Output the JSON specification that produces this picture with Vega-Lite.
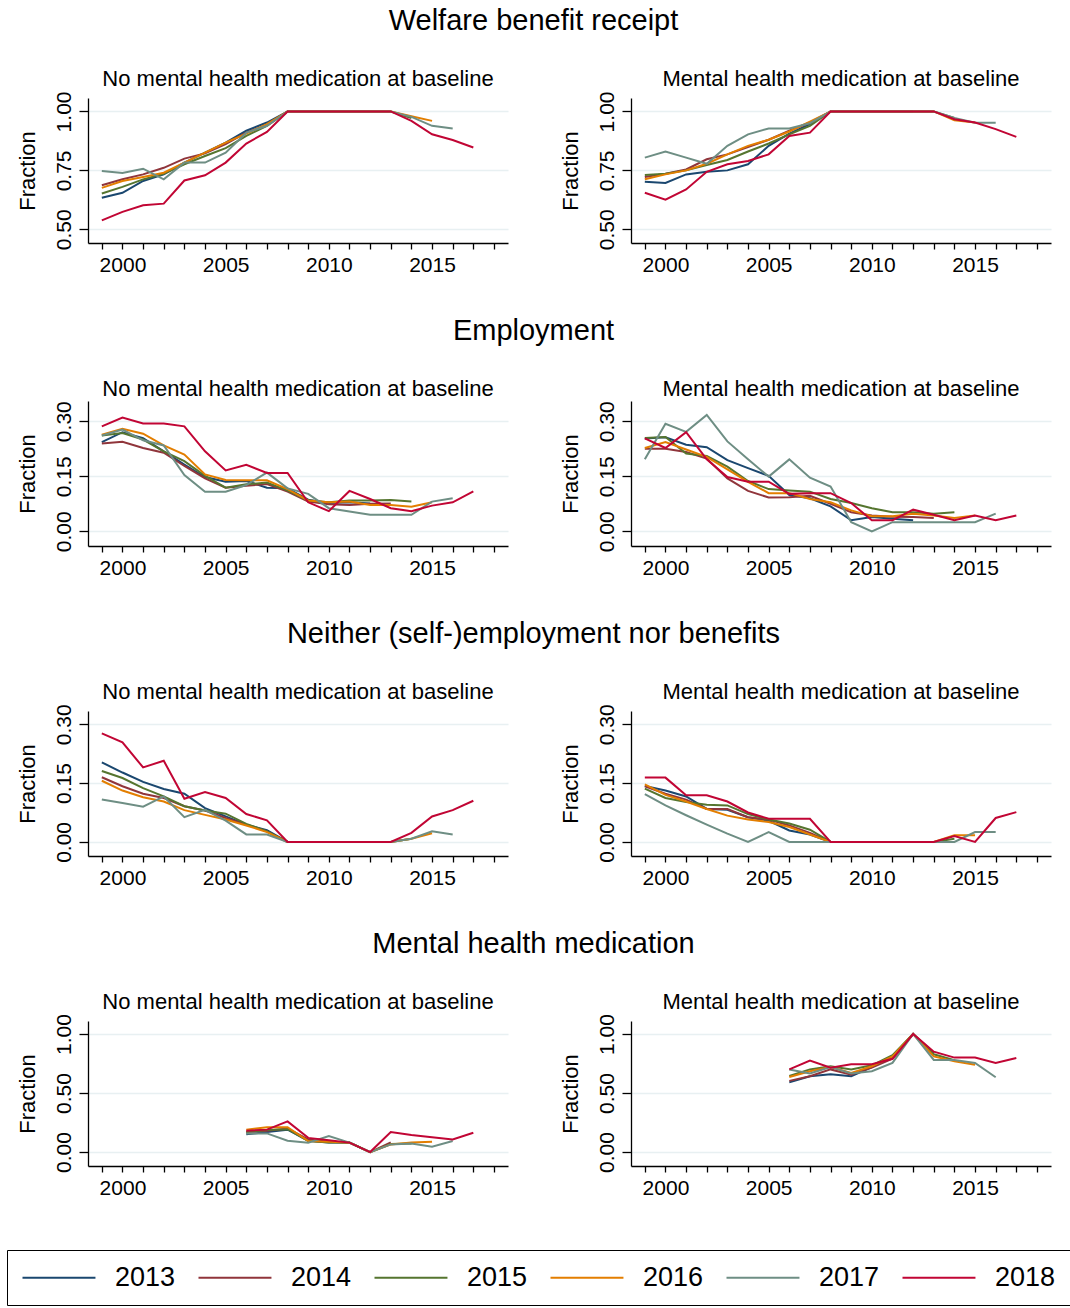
{
"$schema": "https://vega.github.io/schema/vega-lite/v6.json",
"background": "white",
"padding": {"left": 6, "top": 7, "right": 0, "bottom": 0},
"datasets": {
"w0": [
{"c":"2013","x":1999,"v":0.634},{"c":"2013","x":2000,"v":0.655},{"c":"2013","x":2001,"v":0.705},{"c":"2013","x":2002,"v":0.733},{"c":"2013","x":2003,"v":0.783},{"c":"2013","x":2004,"v":0.825},{"c":"2013","x":2005,"v":0.868},{"c":"2013","x":2006,"v":0.918},{"c":"2013","x":2007,"v":0.953},{"c":"2013","x":2008,"v":1},{"c":"2013","x":2009,"v":1},{"c":"2013","x":2010,"v":1},{"c":"2013","x":2011,"v":1},{"c":"2013","x":2012,"v":1},
{"c":"2014","x":1999,"v":0.687},{"c":"2014","x":2000,"v":0.712},{"c":"2014","x":2001,"v":0.733},{"c":"2014","x":2002,"v":0.761},{"c":"2014","x":2003,"v":0.8},{"c":"2014","x":2004,"v":0.822},{"c":"2014","x":2005,"v":0.861},{"c":"2014","x":2006,"v":0.91},{"c":"2014","x":2007,"v":0.942},{"c":"2014","x":2008,"v":1},{"c":"2014","x":2009,"v":1},{"c":"2014","x":2010,"v":1},{"c":"2014","x":2011,"v":1},{"c":"2014","x":2012,"v":1},{"c":"2014","x":2013,"v":1},
{"c":"2015","x":1999,"v":0.652},{"c":"2015","x":2000,"v":0.68},{"c":"2015","x":2001,"v":0.712},{"c":"2015","x":2002,"v":0.736},{"c":"2015","x":2003,"v":0.776},{"c":"2015","x":2004,"v":0.811},{"c":"2015","x":2005,"v":0.844},{"c":"2015","x":2006,"v":0.896},{"c":"2015","x":2007,"v":0.939},{"c":"2015","x":2008,"v":1},{"c":"2015","x":2009,"v":1},{"c":"2015","x":2010,"v":1},{"c":"2015","x":2011,"v":1},{"c":"2015","x":2012,"v":1},{"c":"2015","x":2013,"v":1},{"c":"2015","x":2014,"v":0.972},
{"c":"2016","x":1999,"v":0.676},{"c":"2016","x":2000,"v":0.705},{"c":"2016","x":2001,"v":0.722},{"c":"2016","x":2002,"v":0.74},{"c":"2016","x":2003,"v":0.783},{"c":"2016","x":2004,"v":0.825},{"c":"2016","x":2005,"v":0.868},{"c":"2016","x":2006,"v":0.906},{"c":"2016","x":2007,"v":0.946},{"c":"2016","x":2008,"v":1},{"c":"2016","x":2009,"v":1},{"c":"2016","x":2010,"v":1},{"c":"2016","x":2011,"v":1},{"c":"2016","x":2012,"v":1},{"c":"2016","x":2013,"v":1},{"c":"2016","x":2014,"v":0.98},{"c":"2016","x":2015,"v":0.96},
{"c":"2017","x":1999,"v":0.747},{"c":"2017","x":2000,"v":0.739},{"c":"2017","x":2001,"v":0.757},{"c":"2017","x":2002,"v":0.712},{"c":"2017","x":2003,"v":0.783},{"c":"2017","x":2004,"v":0.783},{"c":"2017","x":2005,"v":0.825},{"c":"2017","x":2006,"v":0.91},{"c":"2017","x":2007,"v":0.939},{"c":"2017","x":2008,"v":1},{"c":"2017","x":2009,"v":1},{"c":"2017","x":2010,"v":1},{"c":"2017","x":2011,"v":1},{"c":"2017","x":2012,"v":1},{"c":"2017","x":2013,"v":1},{"c":"2017","x":2014,"v":0.977},{"c":"2017","x":2015,"v":0.939},{"c":"2017","x":2016,"v":0.928},
{"c":"2018","x":1999,"v":0.538},{"c":"2018","x":2000,"v":0.574},{"c":"2018","x":2001,"v":0.602},{"c":"2018","x":2002,"v":0.609},{"c":"2018","x":2003,"v":0.707},{"c":"2018","x":2004,"v":0.729},{"c":"2018","x":2005,"v":0.783},{"c":"2018","x":2006,"v":0.864},{"c":"2018","x":2007,"v":0.913},{"c":"2018","x":2008,"v":1},{"c":"2018","x":2009,"v":1},{"c":"2018","x":2010,"v":1},{"c":"2018","x":2011,"v":1},{"c":"2018","x":2012,"v":1},{"c":"2018","x":2013,"v":1},{"c":"2018","x":2014,"v":0.96},{"c":"2018","x":2015,"v":0.903},{"c":"2018","x":2016,"v":0.879},{"c":"2018","x":2017,"v":0.847}
],
"w1": [
{"c":"2013","x":1999,"v":0.702},{"c":"2013","x":2000,"v":0.697},{"c":"2013","x":2001,"v":0.733},{"c":"2013","x":2002,"v":0.744},{"c":"2013","x":2003,"v":0.75},{"c":"2013","x":2004,"v":0.776},{"c":"2013","x":2005,"v":0.854},{"c":"2013","x":2006,"v":0.906},{"c":"2013","x":2007,"v":0.946},{"c":"2013","x":2008,"v":1},{"c":"2013","x":2009,"v":1},{"c":"2013","x":2010,"v":1},{"c":"2013","x":2011,"v":1},{"c":"2013","x":2012,"v":1},
{"c":"2014","x":1999,"v":0.722},{"c":"2014","x":2000,"v":0.736},{"c":"2014","x":2001,"v":0.754},{"c":"2014","x":2002,"v":0.797},{"c":"2014","x":2003,"v":0.818},{"c":"2014","x":2004,"v":0.849},{"c":"2014","x":2005,"v":0.88},{"c":"2014","x":2006,"v":0.918},{"c":"2014","x":2007,"v":0.953},{"c":"2014","x":2008,"v":1},{"c":"2014","x":2009,"v":1},{"c":"2014","x":2010,"v":1},{"c":"2014","x":2011,"v":1},{"c":"2014","x":2012,"v":1},{"c":"2014","x":2013,"v":1},
{"c":"2015","x":1999,"v":0.73},{"c":"2015","x":2000,"v":0.736},{"c":"2015","x":2001,"v":0.75},{"c":"2015","x":2002,"v":0.773},{"c":"2015","x":2003,"v":0.794},{"c":"2015","x":2004,"v":0.83},{"c":"2015","x":2005,"v":0.864},{"c":"2015","x":2006,"v":0.903},{"c":"2015","x":2007,"v":0.939},{"c":"2015","x":2008,"v":1},{"c":"2015","x":2009,"v":1},{"c":"2015","x":2010,"v":1},{"c":"2015","x":2011,"v":1},{"c":"2015","x":2012,"v":1},{"c":"2015","x":2013,"v":1},{"c":"2015","x":2014,"v":0.972},
{"c":"2016","x":1999,"v":0.712},{"c":"2016","x":2000,"v":0.733},{"c":"2016","x":2001,"v":0.75},{"c":"2016","x":2002,"v":0.778},{"c":"2016","x":2003,"v":0.818},{"c":"2016","x":2004,"v":0.854},{"c":"2016","x":2005,"v":0.88},{"c":"2016","x":2006,"v":0.915},{"c":"2016","x":2007,"v":0.957},{"c":"2016","x":2008,"v":1},{"c":"2016","x":2009,"v":1},{"c":"2016","x":2010,"v":1},{"c":"2016","x":2011,"v":1},{"c":"2016","x":2012,"v":1},{"c":"2016","x":2013,"v":1},{"c":"2016","x":2014,"v":0.963},{"c":"2016","x":2015,"v":0.953},
{"c":"2017","x":1999,"v":0.804},{"c":"2017","x":2000,"v":0.83},{"c":"2017","x":2001,"v":0.804},{"c":"2017","x":2002,"v":0.778},{"c":"2017","x":2003,"v":0.854},{"c":"2017","x":2004,"v":0.903},{"c":"2017","x":2005,"v":0.928},{"c":"2017","x":2006,"v":0.928},{"c":"2017","x":2007,"v":0.95},{"c":"2017","x":2008,"v":1},{"c":"2017","x":2009,"v":1},{"c":"2017","x":2010,"v":1},{"c":"2017","x":2011,"v":1},{"c":"2017","x":2012,"v":1},{"c":"2017","x":2013,"v":1},{"c":"2017","x":2014,"v":0.972},{"c":"2017","x":2015,"v":0.952},{"c":"2017","x":2016,"v":0.952},
{"c":"2018","x":1999,"v":0.655},{"c":"2018","x":2000,"v":0.626},{"c":"2018","x":2001,"v":0.669},{"c":"2018","x":2002,"v":0.744},{"c":"2018","x":2003,"v":0.776},{"c":"2018","x":2004,"v":0.79},{"c":"2018","x":2005,"v":0.818},{"c":"2018","x":2006,"v":0.896},{"c":"2018","x":2007,"v":0.91},{"c":"2018","x":2008,"v":1},{"c":"2018","x":2009,"v":1},{"c":"2018","x":2010,"v":1},{"c":"2018","x":2011,"v":1},{"c":"2018","x":2012,"v":1},{"c":"2018","x":2013,"v":1},{"c":"2018","x":2014,"v":0.967},{"c":"2018","x":2015,"v":0.953},{"c":"2018","x":2016,"v":0.925},{"c":"2018","x":2017,"v":0.892}
],
"e0": [
{"c":"2013","x":1999,"v":0.243},{"c":"2013","x":2000,"v":0.27},{"c":"2013","x":2001,"v":0.254},{"c":"2013","x":2002,"v":0.218},{"c":"2013","x":2003,"v":0.182},{"c":"2013","x":2004,"v":0.148},{"c":"2013","x":2005,"v":0.135},{"c":"2013","x":2006,"v":0.137},{"c":"2013","x":2007,"v":0.119},{"c":"2013","x":2008,"v":0.117},{"c":"2013","x":2009,"v":0.086},{"c":"2013","x":2010,"v":0.077},{"c":"2013","x":2011,"v":0.079},{"c":"2013","x":2012,"v":0.076},
{"c":"2014","x":1999,"v":0.239},{"c":"2014","x":2000,"v":0.244},{"c":"2014","x":2001,"v":0.227},{"c":"2014","x":2002,"v":0.214},{"c":"2014","x":2003,"v":0.178},{"c":"2014","x":2004,"v":0.144},{"c":"2014","x":2005,"v":0.119},{"c":"2014","x":2006,"v":0.124},{"c":"2014","x":2007,"v":0.129},{"c":"2014","x":2008,"v":0.108},{"c":"2014","x":2009,"v":0.081},{"c":"2014","x":2010,"v":0.074},{"c":"2014","x":2011,"v":0.072},{"c":"2014","x":2012,"v":0.075},{"c":"2014","x":2013,"v":0.076},
{"c":"2015","x":1999,"v":0.261},{"c":"2015","x":2000,"v":0.268},{"c":"2015","x":2001,"v":0.25},{"c":"2015","x":2002,"v":0.218},{"c":"2015","x":2003,"v":0.191},{"c":"2015","x":2004,"v":0.151},{"c":"2015","x":2005,"v":0.119},{"c":"2015","x":2006,"v":0.128},{"c":"2015","x":2007,"v":0.133},{"c":"2015","x":2008,"v":0.111},{"c":"2015","x":2009,"v":0.084},{"c":"2015","x":2010,"v":0.079},{"c":"2015","x":2011,"v":0.084},{"c":"2015","x":2012,"v":0.084},{"c":"2015","x":2013,"v":0.085},{"c":"2015","x":2014,"v":0.081},
{"c":"2016","x":1999,"v":0.263},{"c":"2016","x":2000,"v":0.279},{"c":"2016","x":2001,"v":0.266},{"c":"2016","x":2002,"v":0.234},{"c":"2016","x":2003,"v":0.209},{"c":"2016","x":2004,"v":0.155},{"c":"2016","x":2005,"v":0.14},{"c":"2016","x":2006,"v":0.139},{"c":"2016","x":2007,"v":0.139},{"c":"2016","x":2008,"v":0.115},{"c":"2016","x":2009,"v":0.084},{"c":"2016","x":2010,"v":0.079},{"c":"2016","x":2011,"v":0.081},{"c":"2016","x":2012,"v":0.072},{"c":"2016","x":2013,"v":0.072},{"c":"2016","x":2014,"v":0.067},{"c":"2016","x":2015,"v":0.079},
{"c":"2017","x":1999,"v":0.261},{"c":"2017","x":2000,"v":0.277},{"c":"2017","x":2001,"v":0.248},{"c":"2017","x":2002,"v":0.234},{"c":"2017","x":2003,"v":0.153},{"c":"2017","x":2004,"v":0.108},{"c":"2017","x":2005,"v":0.108},{"c":"2017","x":2006,"v":0.126},{"c":"2017","x":2007,"v":0.16},{"c":"2017","x":2008,"v":0.117},{"c":"2017","x":2009,"v":0.102},{"c":"2017","x":2010,"v":0.063},{"c":"2017","x":2011,"v":0.054},{"c":"2017","x":2012,"v":0.045},{"c":"2017","x":2013,"v":0.045},{"c":"2017","x":2014,"v":0.045},{"c":"2017","x":2015,"v":0.081},{"c":"2017","x":2016,"v":0.09},
{"c":"2018","x":1999,"v":0.286},{"c":"2018","x":2000,"v":0.31},{"c":"2018","x":2001,"v":0.294},{"c":"2018","x":2002,"v":0.294},{"c":"2018","x":2003,"v":0.286},{"c":"2018","x":2004,"v":0.218},{"c":"2018","x":2005,"v":0.166},{"c":"2018","x":2006,"v":0.181},{"c":"2018","x":2007,"v":0.159},{"c":"2018","x":2008,"v":0.159},{"c":"2018","x":2009,"v":0.079},{"c":"2018","x":2010,"v":0.055},{"c":"2018","x":2011,"v":0.11},{"c":"2018","x":2012,"v":0.088},{"c":"2018","x":2013,"v":0.063},{"c":"2018","x":2014,"v":0.055},{"c":"2018","x":2015,"v":0.07},{"c":"2018","x":2016,"v":0.079},{"c":"2018","x":2017,"v":0.109}
],
"e1": [
{"c":"2013","x":1999,"v":0.253},{"c":"2013","x":2000,"v":0.256},{"c":"2013","x":2001,"v":0.236},{"c":"2013","x":2002,"v":0.229},{"c":"2013","x":2003,"v":0.194},{"c":"2013","x":2004,"v":0.172},{"c":"2013","x":2005,"v":0.151},{"c":"2013","x":2006,"v":0.099},{"c":"2013","x":2007,"v":0.09},{"c":"2013","x":2008,"v":0.068},{"c":"2013","x":2009,"v":0.03},{"c":"2013","x":2010,"v":0.039},{"c":"2013","x":2011,"v":0.034},{"c":"2013","x":2012,"v":0.03},
{"c":"2014","x":1999,"v":0.225},{"c":"2014","x":2000,"v":0.225},{"c":"2014","x":2001,"v":0.216},{"c":"2014","x":2002,"v":0.198},{"c":"2014","x":2003,"v":0.144},{"c":"2014","x":2004,"v":0.11},{"c":"2014","x":2005,"v":0.092},{"c":"2014","x":2006,"v":0.093},{"c":"2014","x":2007,"v":0.097},{"c":"2014","x":2008,"v":0.075},{"c":"2014","x":2009,"v":0.052},{"c":"2014","x":2010,"v":0.043},{"c":"2014","x":2011,"v":0.04},{"c":"2014","x":2012,"v":0.039},{"c":"2014","x":2013,"v":0.036},
{"c":"2015","x":1999,"v":0.254},{"c":"2015","x":2000,"v":0.257},{"c":"2015","x":2001,"v":0.212},{"c":"2015","x":2002,"v":0.205},{"c":"2015","x":2003,"v":0.176},{"c":"2015","x":2004,"v":0.137},{"c":"2015","x":2005,"v":0.115},{"c":"2015","x":2006,"v":0.111},{"c":"2015","x":2007,"v":0.108},{"c":"2015","x":2008,"v":0.088},{"c":"2015","x":2009,"v":0.077},{"c":"2015","x":2010,"v":0.063},{"c":"2015","x":2011,"v":0.052},{"c":"2015","x":2012,"v":0.052},{"c":"2015","x":2013,"v":0.048},{"c":"2015","x":2014,"v":0.052},
{"c":"2016","x":1999,"v":0.227},{"c":"2016","x":2000,"v":0.243},{"c":"2016","x":2001,"v":0.223},{"c":"2016","x":2002,"v":0.203},{"c":"2016","x":2003,"v":0.169},{"c":"2016","x":2004,"v":0.135},{"c":"2016","x":2005,"v":0.104},{"c":"2016","x":2006,"v":0.104},{"c":"2016","x":2007,"v":0.088},{"c":"2016","x":2008,"v":0.079},{"c":"2016","x":2009,"v":0.057},{"c":"2016","x":2010,"v":0.041},{"c":"2016","x":2011,"v":0.041},{"c":"2016","x":2012,"v":0.048},{"c":"2016","x":2013,"v":0.043},{"c":"2016","x":2014,"v":0.036},{"c":"2016","x":2015,"v":0.043},
{"c":"2017","x":1999,"v":0.196},{"c":"2017","x":2000,"v":0.293},{"c":"2017","x":2001,"v":0.271},{"c":"2017","x":2002,"v":0.317},{"c":"2017","x":2003,"v":0.245},{"c":"2017","x":2004,"v":0.196},{"c":"2017","x":2005,"v":0.149},{"c":"2017","x":2006,"v":0.196},{"c":"2017","x":2007,"v":0.146},{"c":"2017","x":2008,"v":0.122},{"c":"2017","x":2009,"v":0.025},{"c":"2017","x":2010,"v":0},{"c":"2017","x":2011,"v":0.025},{"c":"2017","x":2012,"v":0.025},{"c":"2017","x":2013,"v":0.025},{"c":"2017","x":2014,"v":0.025},{"c":"2017","x":2015,"v":0.025},{"c":"2017","x":2016,"v":0.048},
{"c":"2018","x":1999,"v":0.253},{"c":"2018","x":2000,"v":0.227},{"c":"2018","x":2001,"v":0.27},{"c":"2018","x":2002,"v":0.196},{"c":"2018","x":2003,"v":0.148},{"c":"2018","x":2004,"v":0.135},{"c":"2018","x":2005,"v":0.135},{"c":"2018","x":2006,"v":0.102},{"c":"2018","x":2007,"v":0.104},{"c":"2018","x":2008,"v":0.104},{"c":"2018","x":2009,"v":0.077},{"c":"2018","x":2010,"v":0.03},{"c":"2018","x":2011,"v":0.03},{"c":"2018","x":2012,"v":0.059},{"c":"2018","x":2013,"v":0.045},{"c":"2018","x":2014,"v":0.03},{"c":"2018","x":2015,"v":0.043},{"c":"2018","x":2016,"v":0.03},{"c":"2018","x":2017,"v":0.043}
],
"n0": [
{"c":"2013","x":1999,"v":0.203},{"c":"2013","x":2000,"v":0.177},{"c":"2013","x":2001,"v":0.153},{"c":"2013","x":2002,"v":0.135},{"c":"2013","x":2003,"v":0.123},{"c":"2013","x":2004,"v":0.086},{"c":"2013","x":2005,"v":0.065},{"c":"2013","x":2006,"v":0.044},{"c":"2013","x":2007,"v":0.03},{"c":"2013","x":2008,"v":0},{"c":"2013","x":2009,"v":0},{"c":"2013","x":2010,"v":0},{"c":"2013","x":2011,"v":0},{"c":"2013","x":2012,"v":0},
{"c":"2014","x":1999,"v":0.165},{"c":"2014","x":2000,"v":0.142},{"c":"2014","x":2001,"v":0.123},{"c":"2014","x":2002,"v":0.112},{"c":"2014","x":2003,"v":0.091},{"c":"2014","x":2004,"v":0.08},{"c":"2014","x":2005,"v":0.061},{"c":"2014","x":2006,"v":0.044},{"c":"2014","x":2007,"v":0.027},{"c":"2014","x":2008,"v":0},{"c":"2014","x":2009,"v":0},{"c":"2014","x":2010,"v":0},{"c":"2014","x":2011,"v":0},{"c":"2014","x":2012,"v":0},{"c":"2014","x":2013,"v":0},
{"c":"2015","x":1999,"v":0.181},{"c":"2015","x":2000,"v":0.163},{"c":"2015","x":2001,"v":0.137},{"c":"2015","x":2002,"v":0.116},{"c":"2015","x":2003,"v":0.091},{"c":"2015","x":2004,"v":0.08},{"c":"2015","x":2005,"v":0.072},{"c":"2015","x":2006,"v":0.046},{"c":"2015","x":2007,"v":0.027},{"c":"2015","x":2008,"v":0},{"c":"2015","x":2009,"v":0},{"c":"2015","x":2010,"v":0},{"c":"2015","x":2011,"v":0},{"c":"2015","x":2012,"v":0},{"c":"2015","x":2013,"v":0},{"c":"2015","x":2014,"v":0.008},
{"c":"2016","x":1999,"v":0.156},{"c":"2016","x":2000,"v":0.131},{"c":"2016","x":2001,"v":0.114},{"c":"2016","x":2002,"v":0.103},{"c":"2016","x":2003,"v":0.081},{"c":"2016","x":2004,"v":0.069},{"c":"2016","x":2005,"v":0.057},{"c":"2016","x":2006,"v":0.042},{"c":"2016","x":2007,"v":0.025},{"c":"2016","x":2008,"v":0},{"c":"2016","x":2009,"v":0},{"c":"2016","x":2010,"v":0},{"c":"2016","x":2011,"v":0},{"c":"2016","x":2012,"v":0},{"c":"2016","x":2013,"v":0},{"c":"2016","x":2014,"v":0.008},{"c":"2016","x":2015,"v":0.022},
{"c":"2017","x":1999,"v":0.108},{"c":"2017","x":2000,"v":0.099},{"c":"2017","x":2001,"v":0.09},{"c":"2017","x":2002,"v":0.116},{"c":"2017","x":2003,"v":0.063},{"c":"2017","x":2004,"v":0.082},{"c":"2017","x":2005,"v":0.054},{"c":"2017","x":2006,"v":0.019},{"c":"2017","x":2007,"v":0.019},{"c":"2017","x":2008,"v":0},{"c":"2017","x":2009,"v":0},{"c":"2017","x":2010,"v":0},{"c":"2017","x":2011,"v":0},{"c":"2017","x":2012,"v":0},{"c":"2017","x":2013,"v":0},{"c":"2017","x":2014,"v":0.008},{"c":"2017","x":2015,"v":0.027},{"c":"2017","x":2016,"v":0.019},
{"c":"2018","x":1999,"v":0.277},{"c":"2018","x":2000,"v":0.254},{"c":"2018","x":2001,"v":0.19},{"c":"2018","x":2002,"v":0.207},{"c":"2018","x":2003,"v":0.11},{"c":"2018","x":2004,"v":0.127},{"c":"2018","x":2005,"v":0.112},{"c":"2018","x":2006,"v":0.071},{"c":"2018","x":2007,"v":0.055},{"c":"2018","x":2008,"v":0},{"c":"2018","x":2009,"v":0},{"c":"2018","x":2010,"v":0},{"c":"2018","x":2011,"v":0},{"c":"2018","x":2012,"v":0},{"c":"2018","x":2013,"v":0},{"c":"2018","x":2014,"v":0.023},{"c":"2018","x":2015,"v":0.065},{"c":"2018","x":2016,"v":0.081},{"c":"2018","x":2017,"v":0.105}
],
"n1": [
{"c":"2013","x":1999,"v":0.143},{"c":"2013","x":2000,"v":0.131},{"c":"2013","x":2001,"v":0.116},{"c":"2013","x":2002,"v":0.084},{"c":"2013","x":2003,"v":0.082},{"c":"2013","x":2004,"v":0.063},{"c":"2013","x":2005,"v":0.054},{"c":"2013","x":2006,"v":0.029},{"c":"2013","x":2007,"v":0.019},{"c":"2013","x":2008,"v":0},{"c":"2013","x":2009,"v":0},{"c":"2013","x":2010,"v":0},{"c":"2013","x":2011,"v":0},{"c":"2013","x":2012,"v":0},
{"c":"2014","x":1999,"v":0.142},{"c":"2014","x":2000,"v":0.123},{"c":"2014","x":2001,"v":0.108},{"c":"2014","x":2002,"v":0.084},{"c":"2014","x":2003,"v":0.084},{"c":"2014","x":2004,"v":0.063},{"c":"2014","x":2005,"v":0.057},{"c":"2014","x":2006,"v":0.042},{"c":"2014","x":2007,"v":0.023},{"c":"2014","x":2008,"v":0},{"c":"2014","x":2009,"v":0},{"c":"2014","x":2010,"v":0},{"c":"2014","x":2011,"v":0},{"c":"2014","x":2012,"v":0},{"c":"2014","x":2013,"v":0},
{"c":"2015","x":1999,"v":0.136},{"c":"2015","x":2000,"v":0.112},{"c":"2015","x":2001,"v":0.102},{"c":"2015","x":2002,"v":0.095},{"c":"2015","x":2003,"v":0.093},{"c":"2015","x":2004,"v":0.071},{"c":"2015","x":2005,"v":0.057},{"c":"2015","x":2006,"v":0.047},{"c":"2015","x":2007,"v":0.031},{"c":"2015","x":2008,"v":0},{"c":"2015","x":2009,"v":0},{"c":"2015","x":2010,"v":0},{"c":"2015","x":2011,"v":0},{"c":"2015","x":2012,"v":0},{"c":"2015","x":2013,"v":0},{"c":"2015","x":2014,"v":0.008},
{"c":"2016","x":1999,"v":0.147},{"c":"2016","x":2000,"v":0.12},{"c":"2016","x":2001,"v":0.103},{"c":"2016","x":2002,"v":0.084},{"c":"2016","x":2003,"v":0.067},{"c":"2016","x":2004,"v":0.057},{"c":"2016","x":2005,"v":0.051},{"c":"2016","x":2006,"v":0.038},{"c":"2016","x":2007,"v":0.019},{"c":"2016","x":2008,"v":0},{"c":"2016","x":2009,"v":0},{"c":"2016","x":2010,"v":0},{"c":"2016","x":2011,"v":0},{"c":"2016","x":2012,"v":0},{"c":"2016","x":2013,"v":0},{"c":"2016","x":2014,"v":0.017},{"c":"2016","x":2015,"v":0.017},
{"c":"2017","x":1999,"v":0.122},{"c":"2017","x":2000,"v":0.093},{"c":"2017","x":2001,"v":0.068},{"c":"2017","x":2002,"v":0.044},{"c":"2017","x":2003,"v":0.021},{"c":"2017","x":2004,"v":0},{"c":"2017","x":2005,"v":0.025},{"c":"2017","x":2006,"v":0},{"c":"2017","x":2007,"v":0},{"c":"2017","x":2008,"v":0},{"c":"2017","x":2009,"v":0},{"c":"2017","x":2010,"v":0},{"c":"2017","x":2011,"v":0},{"c":"2017","x":2012,"v":0},{"c":"2017","x":2013,"v":0},{"c":"2017","x":2014,"v":0},{"c":"2017","x":2015,"v":0.025},{"c":"2017","x":2016,"v":0.025},
{"c":"2018","x":1999,"v":0.164},{"c":"2018","x":2000,"v":0.164},{"c":"2018","x":2001,"v":0.119},{"c":"2018","x":2002,"v":0.119},{"c":"2018","x":2003,"v":0.103},{"c":"2018","x":2004,"v":0.075},{"c":"2018","x":2005,"v":0.059},{"c":"2018","x":2006,"v":0.059},{"c":"2018","x":2007,"v":0.059},{"c":"2018","x":2008,"v":0},{"c":"2018","x":2009,"v":0},{"c":"2018","x":2010,"v":0},{"c":"2018","x":2011,"v":0},{"c":"2018","x":2012,"v":0},{"c":"2018","x":2013,"v":0},{"c":"2018","x":2014,"v":0.015},{"c":"2018","x":2015,"v":0},{"c":"2018","x":2016,"v":0.061},{"c":"2018","x":2017,"v":0.076}
],
"h0": [
{"c":"2013","x":2006,"v":0.15},{"c":"2013","x":2007,"v":0.17},{"c":"2013","x":2008,"v":0.19},{"c":"2013","x":2009,"v":0.096},{"c":"2013","x":2010,"v":0.082},{"c":"2013","x":2011,"v":0.08},{"c":"2013","x":2012,"v":0},
{"c":"2014","x":2006,"v":0.17},{"c":"2014","x":2007,"v":0.18},{"c":"2014","x":2008,"v":0.2},{"c":"2014","x":2009,"v":0.107},{"c":"2014","x":2010,"v":0.087},{"c":"2014","x":2011,"v":0.08},{"c":"2014","x":2012,"v":0},{"c":"2014","x":2013,"v":0.082},
{"c":"2015","x":2006,"v":0.17},{"c":"2015","x":2007,"v":0.186},{"c":"2015","x":2008,"v":0.194},{"c":"2015","x":2009,"v":0.093},{"c":"2015","x":2010,"v":0.082},{"c":"2015","x":2011,"v":0.08},{"c":"2015","x":2012,"v":0},{"c":"2015","x":2013,"v":0.068},{"c":"2015","x":2014,"v":0.073},
{"c":"2016","x":2006,"v":0.19},{"c":"2016","x":2007,"v":0.21},{"c":"2016","x":2008,"v":0.21},{"c":"2016","x":2009,"v":0.093},{"c":"2016","x":2010,"v":0.087},{"c":"2016","x":2011,"v":0.08},{"c":"2016","x":2012,"v":0},{"c":"2016","x":2013,"v":0.065},{"c":"2016","x":2014,"v":0.082},{"c":"2016","x":2015,"v":0.087},
{"c":"2017","x":2006,"v":0.158},{"c":"2017","x":2007,"v":0.158},{"c":"2017","x":2008,"v":0.096},{"c":"2017","x":2009,"v":0.08},{"c":"2017","x":2010,"v":0.135},{"c":"2017","x":2011,"v":0.08},{"c":"2017","x":2012,"v":0},{"c":"2017","x":2013,"v":0.065},{"c":"2017","x":2014,"v":0.073},{"c":"2017","x":2015,"v":0.045},{"c":"2017","x":2016,"v":0.093},
{"c":"2018","x":2006,"v":0.18},{"c":"2018","x":2007,"v":0.19},{"c":"2018","x":2008,"v":0.26},{"c":"2018","x":2009,"v":0.12},{"c":"2018","x":2010,"v":0.1},{"c":"2018","x":2011,"v":0.08},{"c":"2018","x":2012,"v":0},{"c":"2018","x":2013,"v":0.17},{"c":"2018","x":2014,"v":0.145},{"c":"2018","x":2015,"v":0.125},{"c":"2018","x":2016,"v":0.107},{"c":"2018","x":2017,"v":0.163}
],
"h1": [
{"c":"2013","x":2006,"v":0.59},{"c":"2013","x":2007,"v":0.642},{"c":"2013","x":2008,"v":0.66},{"c":"2013","x":2009,"v":0.642},{"c":"2013","x":2010,"v":0.72},{"c":"2013","x":2011,"v":0.805},{"c":"2013","x":2012,"v":1},
{"c":"2014","x":2006,"v":0.603},{"c":"2014","x":2007,"v":0.642},{"c":"2014","x":2008,"v":0.7},{"c":"2014","x":2009,"v":0.656},{"c":"2014","x":2010,"v":0.715},{"c":"2014","x":2011,"v":0.79},{"c":"2014","x":2012,"v":1},{"c":"2014","x":2013,"v":0.84},
{"c":"2015","x":2006,"v":0.645},{"c":"2015","x":2007,"v":0.7},{"c":"2015","x":2008,"v":0.727},{"c":"2015","x":2009,"v":0.7},{"c":"2015","x":2010,"v":0.735},{"c":"2015","x":2011,"v":0.82},{"c":"2015","x":2012,"v":1},{"c":"2015","x":2013,"v":0.828},{"c":"2015","x":2014,"v":0.777},
{"c":"2016","x":2006,"v":0.636},{"c":"2016","x":2007,"v":0.685},{"c":"2016","x":2008,"v":0.72},{"c":"2016","x":2009,"v":0.67},{"c":"2016","x":2010,"v":0.727},{"c":"2016","x":2011,"v":0.81},{"c":"2016","x":2012,"v":1},{"c":"2016","x":2013,"v":0.81},{"c":"2016","x":2014,"v":0.77},{"c":"2016","x":2015,"v":0.74},
{"c":"2017","x":2006,"v":0.7},{"c":"2017","x":2007,"v":0.665},{"c":"2017","x":2008,"v":0.72},{"c":"2017","x":2009,"v":0.665},{"c":"2017","x":2010,"v":0.685},{"c":"2017","x":2011,"v":0.755},{"c":"2017","x":2012,"v":1},{"c":"2017","x":2013,"v":0.78},{"c":"2017","x":2014,"v":0.78},{"c":"2017","x":2015,"v":0.755},{"c":"2017","x":2016,"v":0.634},
{"c":"2018","x":2006,"v":0.7},{"c":"2018","x":2007,"v":0.775},{"c":"2018","x":2008,"v":0.715},{"c":"2018","x":2009,"v":0.744},{"c":"2018","x":2010,"v":0.744},{"c":"2018","x":2011,"v":0.79},{"c":"2018","x":2012,"v":1},{"c":"2018","x":2013,"v":0.85},{"c":"2018","x":2014,"v":0.8},{"c":"2018","x":2015,"v":0.8},{"c":"2018","x":2016,"v":0.755},{"c":"2018","x":2017,"v":0.797}
]
},
"config": {
"font": "Liberation Sans",
"view": {"stroke": null},
"line": {"strokeWidth": 2},
"title": {"font": "Liberation Sans", "fontWeight": "normal", "color": "#000", "anchor": "middle"},
"axis": {"domainColor": "#000", "tickColor": "#000", "labelColor": "#000", "titleColor": "#000", "domainWidth": 1.3, "tickWidth": 1.3, "labelFont": "Liberation Sans", "titleFont": "Liberation Sans"},
"axisX": {"tickSize": 6, "labelPadding": 5, "labelFontSize": 21, "grid": false, "labelOverlap": false, "labelFlush": false},
"axisY": {"tickSize": 9, "labelPadding": 9, "labelAngle": 270, "labelAlign": "center", "labelBaseline": "alphabetic", "labelFontSize": 21, "grid": true, "gridColor": "#e8f0f2", "gridWidth": 1.5, "titleFontSize": 22, "titleFontWeight": "normal", "titlePadding": 14, "labelOverlap": false}
},
"spacing": 41,
"vconcat": [
{"title": {"text": "Welfare benefit receipt", "fontSize": 29, "anchor": "middle", "offset": 32}, "spacing": 51, "hconcat": [
{"data": {"name": "w0"}, "width": 420, "height": 145, "title": {"text": "No mental health medication at baseline", "fontSize": 22, "frame": "group", "offset": 0}, "mark": "line",
 "encoding": {"x": {"field": "x", "type": "quantitative", "scale": {"domain": [1998.33, 2018.68], "nice": false, "zero": false}, "axis": {"title": null, "values": [1999,2000,2001,2002,2003,2004,2005,2006,2007,2008,2009,2010,2011,2012,2013,2014,2015,2016,2017,2018], "labelExpr": "datum.value % 5 === 0 ? format(datum.value, 'd') : ''"}},
 "y": {"field": "v", "type": "quantitative", "scale": {"domain": [0.442, 1.057], "nice": false, "zero": false}, "axis": {"title": "Fraction", "values": [0.5, 0.75, 1], "format": ".2f"}},
 "color": {"field": "c", "type": "nominal", "title": null, "scale": {"domain": ["2013","2014","2015","2016","2017","2018"], "range": ["#1a476f","#90353b","#55752f","#e37e00","#6e8e84","#c10534"]}, "legend": {"orient": "none", "legendX": -81, "legendY": 1152, "direction": "horizontal", "columns": 6, "symbolType": "M-1,0H5.08", "symbolSize": 576, "symbolStrokeWidth": 4, "labelFont": "Liberation Sans", "labelFontSize": 27, "labelColor": "#000", "labelOffset": 67, "columnPadding": 18, "padding": 14, "strokeColor": "#000"}}}},
{"data": {"name": "w1"}, "width": 420, "height": 145, "title": {"text": "Mental health medication at baseline", "fontSize": 22, "frame": "group", "offset": 0}, "mark": "line",
 "encoding": {"x": {"field": "x", "type": "quantitative", "scale": {"domain": [1998.33, 2018.68], "nice": false, "zero": false}, "axis": {"title": null, "values": [1999,2000,2001,2002,2003,2004,2005,2006,2007,2008,2009,2010,2011,2012,2013,2014,2015,2016,2017,2018], "labelExpr": "datum.value % 5 === 0 ? format(datum.value, 'd') : ''"}},
 "y": {"field": "v", "type": "quantitative", "scale": {"domain": [0.442, 1.057], "nice": false, "zero": false}, "axis": {"title": "Fraction", "values": [0.5, 0.75, 1], "format": ".2f"}},
 "color": {"field": "c", "type": "nominal", "title": null, "scale": {"domain": ["2013","2014","2015","2016","2017","2018"], "range": ["#1a476f","#90353b","#55752f","#e37e00","#6e8e84","#c10534"]}}}}
]},
{"title": {"text": "Employment", "fontSize": 29, "anchor": "middle", "offset": 32}, "spacing": 51, "hconcat": [
{"data": {"name": "e0"}, "width": 420, "height": 145, "title": {"text": "No mental health medication at baseline", "fontSize": 22, "frame": "group", "offset": 0}, "mark": "line",
 "encoding": {"x": {"field": "x", "type": "quantitative", "scale": {"domain": [1998.33, 2018.68], "nice": false, "zero": false}, "axis": {"title": null, "values": [1999,2000,2001,2002,2003,2004,2005,2006,2007,2008,2009,2010,2011,2012,2013,2014,2015,2016,2017,2018], "labelExpr": "datum.value % 5 === 0 ? format(datum.value, 'd') : ''"}},
 "y": {"field": "v", "type": "quantitative", "scale": {"domain": [-0.04, 0.355], "nice": false, "zero": false}, "axis": {"title": "Fraction", "values": [0, 0.15, 0.3], "format": ".2f"}},
 "color": {"field": "c", "type": "nominal", "title": null, "scale": {"domain": ["2013","2014","2015","2016","2017","2018"], "range": ["#1a476f","#90353b","#55752f","#e37e00","#6e8e84","#c10534"]}}}},
{"data": {"name": "e1"}, "width": 420, "height": 145, "title": {"text": "Mental health medication at baseline", "fontSize": 22, "frame": "group", "offset": 0}, "mark": "line",
 "encoding": {"x": {"field": "x", "type": "quantitative", "scale": {"domain": [1998.33, 2018.68], "nice": false, "zero": false}, "axis": {"title": null, "values": [1999,2000,2001,2002,2003,2004,2005,2006,2007,2008,2009,2010,2011,2012,2013,2014,2015,2016,2017,2018], "labelExpr": "datum.value % 5 === 0 ? format(datum.value, 'd') : ''"}},
 "y": {"field": "v", "type": "quantitative", "scale": {"domain": [-0.04, 0.355], "nice": false, "zero": false}, "axis": {"title": "Fraction", "values": [0, 0.15, 0.3], "format": ".2f"}},
 "color": {"field": "c", "type": "nominal", "title": null, "scale": {"domain": ["2013","2014","2015","2016","2017","2018"], "range": ["#1a476f","#90353b","#55752f","#e37e00","#6e8e84","#c10534"]}}}}
]},
{"title": {"text": "Neither (self-)employment nor benefits", "fontSize": 29, "anchor": "middle", "offset": 32}, "spacing": 51, "hconcat": [
{"data": {"name": "n0"}, "width": 420, "height": 145, "title": {"text": "No mental health medication at baseline", "fontSize": 22, "frame": "group", "offset": 0}, "mark": "line",
 "encoding": {"x": {"field": "x", "type": "quantitative", "scale": {"domain": [1998.33, 2018.68], "nice": false, "zero": false}, "axis": {"title": null, "values": [1999,2000,2001,2002,2003,2004,2005,2006,2007,2008,2009,2010,2011,2012,2013,2014,2015,2016,2017,2018], "labelExpr": "datum.value % 5 === 0 ? format(datum.value, 'd') : ''"}},
 "y": {"field": "v", "type": "quantitative", "scale": {"domain": [-0.036, 0.334], "nice": false, "zero": false}, "axis": {"title": "Fraction", "values": [0, 0.15, 0.3], "format": ".2f"}},
 "color": {"field": "c", "type": "nominal", "title": null, "scale": {"domain": ["2013","2014","2015","2016","2017","2018"], "range": ["#1a476f","#90353b","#55752f","#e37e00","#6e8e84","#c10534"]}}}},
{"data": {"name": "n1"}, "width": 420, "height": 145, "title": {"text": "Mental health medication at baseline", "fontSize": 22, "frame": "group", "offset": 0}, "mark": "line",
 "encoding": {"x": {"field": "x", "type": "quantitative", "scale": {"domain": [1998.33, 2018.68], "nice": false, "zero": false}, "axis": {"title": null, "values": [1999,2000,2001,2002,2003,2004,2005,2006,2007,2008,2009,2010,2011,2012,2013,2014,2015,2016,2017,2018], "labelExpr": "datum.value % 5 === 0 ? format(datum.value, 'd') : ''"}},
 "y": {"field": "v", "type": "quantitative", "scale": {"domain": [-0.036, 0.334], "nice": false, "zero": false}, "axis": {"title": "Fraction", "values": [0, 0.15, 0.3], "format": ".2f"}},
 "color": {"field": "c", "type": "nominal", "title": null, "scale": {"domain": ["2013","2014","2015","2016","2017","2018"], "range": ["#1a476f","#90353b","#55752f","#e37e00","#6e8e84","#c10534"]}}}}
]},
{"title": {"text": "Mental health medication", "fontSize": 29, "anchor": "middle", "offset": 32}, "spacing": 51, "hconcat": [
{"data": {"name": "h0"}, "width": 420, "height": 145, "title": {"text": "No mental health medication at baseline", "fontSize": 22, "frame": "group", "offset": 0}, "mark": "line",
 "encoding": {"x": {"field": "x", "type": "quantitative", "scale": {"domain": [1998.33, 2018.68], "nice": false, "zero": false}, "axis": {"title": null, "values": [1999,2000,2001,2002,2003,2004,2005,2006,2007,2008,2009,2010,2011,2012,2013,2014,2015,2016,2017,2018], "labelExpr": "datum.value % 5 === 0 ? format(datum.value, 'd') : ''"}},
 "y": {"field": "v", "type": "quantitative", "scale": {"domain": [-0.118, 1.11], "nice": false, "zero": false}, "axis": {"title": "Fraction", "values": [0, 0.5, 1], "format": ".2f"}},
 "color": {"field": "c", "type": "nominal", "title": null, "scale": {"domain": ["2013","2014","2015","2016","2017","2018"], "range": ["#1a476f","#90353b","#55752f","#e37e00","#6e8e84","#c10534"]}}}},
{"data": {"name": "h1"}, "width": 420, "height": 145, "title": {"text": "Mental health medication at baseline", "fontSize": 22, "frame": "group", "offset": 0}, "mark": "line",
 "encoding": {"x": {"field": "x", "type": "quantitative", "scale": {"domain": [1998.33, 2018.68], "nice": false, "zero": false}, "axis": {"title": null, "values": [1999,2000,2001,2002,2003,2004,2005,2006,2007,2008,2009,2010,2011,2012,2013,2014,2015,2016,2017,2018], "labelExpr": "datum.value % 5 === 0 ? format(datum.value, 'd') : ''"}},
 "y": {"field": "v", "type": "quantitative", "scale": {"domain": [-0.118, 1.11], "nice": false, "zero": false}, "axis": {"title": "Fraction", "values": [0, 0.5, 1], "format": ".2f"}},
 "color": {"field": "c", "type": "nominal", "title": null, "scale": {"domain": ["2013","2014","2015","2016","2017","2018"], "range": ["#1a476f","#90353b","#55752f","#e37e00","#6e8e84","#c10534"]}}}}
]}
]
}
